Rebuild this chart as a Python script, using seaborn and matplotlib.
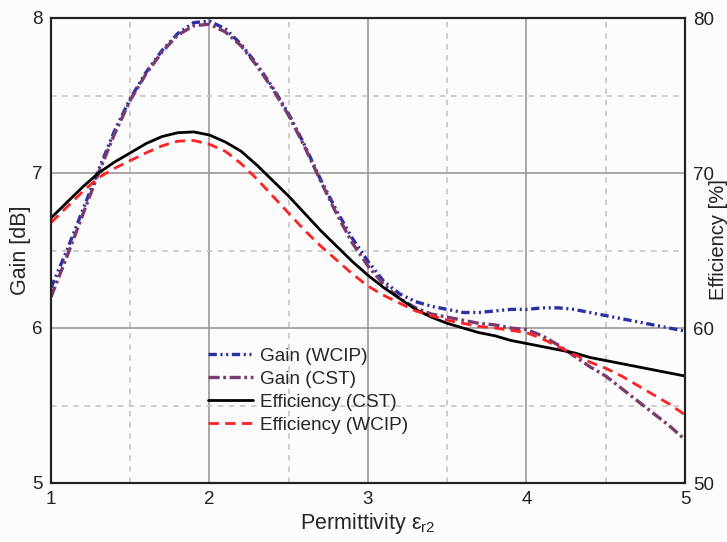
import numpy as np
import pandas as pd
import matplotlib
matplotlib.use("Agg")
import matplotlib.pyplot as plt
from matplotlib.ticker import MultipleLocator
import seaborn as sns

# ---- data ----
permittivity = [1.0, 1.1, 1.2, 1.3, 1.4, 1.5, 1.6, 1.7, 1.8, 1.9,
                2.0, 2.1, 2.2, 2.3, 2.4, 2.5, 2.6, 2.7, 2.8, 2.9,
                3.0, 3.1, 3.2, 3.3, 3.4, 3.5, 3.6, 3.7, 3.8, 3.9,
                4.0, 4.1, 4.2, 4.3, 4.4, 4.5, 4.6, 4.7, 4.8, 4.9, 5.0]

gain_wcip = [6.26, 6.50, 6.76, 7.02, 7.27, 7.48, 7.65, 7.79, 7.90, 7.97,
             7.98, 7.93, 7.83, 7.70, 7.55, 7.38, 7.18, 6.96, 6.76, 6.58,
             6.43, 6.30, 6.22, 6.17, 6.14, 6.12, 6.10, 6.10, 6.11, 6.12,
             6.12, 6.13, 6.13, 6.12, 6.10, 6.08, 6.06, 6.04, 6.02, 6.00, 5.98]

gain_cst = [6.20, 6.46, 6.73, 7.00, 7.25, 7.47, 7.64, 7.78, 7.89, 7.95,
            7.96, 7.91, 7.82, 7.69, 7.54, 7.37, 7.17, 6.95, 6.74, 6.55,
            6.40, 6.28, 6.19, 6.13, 6.09, 6.07, 6.05, 6.03, 6.02, 6.00,
            5.99, 5.95, 5.89, 5.82, 5.75, 5.69, 5.61, 5.53, 5.45, 5.37, 5.28]

eff_cst = [67.1, 68.1, 69.1, 70.0, 70.7, 71.3, 71.9, 72.35, 72.6, 72.65,
           72.45, 72.0, 71.4, 70.5, 69.5, 68.5, 67.4, 66.3, 65.3, 64.3,
           63.4, 62.6, 61.9, 61.2, 60.7, 60.3, 60.0, 59.7, 59.5, 59.2,
           59.0, 58.8, 58.6, 58.4, 58.1, 57.9, 57.7, 57.5, 57.3, 57.1, 56.9]

eff_wcip = [66.8, 67.8, 68.8, 69.7, 70.3, 70.8, 71.3, 71.75, 72.05, 72.1,
            71.85, 71.4, 70.6, 69.6, 68.5, 67.4, 66.3, 65.3, 64.4, 63.5,
            62.7, 62.1, 61.6, 61.1, 60.8, 60.5, 60.3, 60.1, 60.0, 59.85,
            59.7, 59.3, 58.8, 58.3, 57.8, 57.4, 56.9, 56.3, 55.7, 55.1, 54.4]

x_ticks = [1, 2, 3, 4, 5]
gain_ticks = [5, 6, 7, 8]
eff_ticks = [50, 60, 70, 80]

df = pd.DataFrame({"eps": permittivity, "gain_wcip": gain_wcip, "gain_cst": gain_cst,
                   "eff_cst": eff_cst, "eff_wcip": eff_wcip})

# ---- style ----
sns.set_style("white")
plt.rcParams["font.family"] = ["Liberation Sans", "DejaVu Sans"]
plt.rcParams["lines.scale_dashes"] = False

fig = plt.figure(figsize=(7.27, 5.42), dpi=100, facecolor="#fcfcfc")
ax = fig.add_axes([51 / 727, 1 - 483 / 542, 634 / 727, 465 / 542])
ax.set_facecolor("#fcfcfc")
ax2 = ax.twinx()

blue = "#2b31a3"
purple = "#7b3b6f"
red = "#ff2222"

sns.lineplot(data=df, x="eps", y="gain_wcip", ax=ax, color=blue, lw=2.4,
             label="Gain (WCIP)")
sns.lineplot(data=df, x="eps", y="gain_cst", ax=ax, color=purple, lw=2.4,
             label="Gain (CST)")
sns.lineplot(data=df, x="eps", y="eff_cst", ax=ax2, color="black", lw=2.0,
             label="Efficiency (CST)")
sns.lineplot(data=df, x="eps", y="eff_wcip", ax=ax2, color=red, lw=2.0,
             label="Efficiency (WCIP)")

ax.lines[0].set_dashes((6, 2.6, 1.5, 2.6, 1.5, 2.6))
ax.lines[1].set_dashes((8, 2.6, 2.0, 2.6))
ax2.lines[1].set_dashes((7.5, 4.5))

ax.set_xlim(1, 5)
ax.set_ylim(5, 8)
ax2.set_ylim(50, 80)
ax.set_xticks(x_ticks)
ax.set_yticks(gain_ticks)
ax2.set_yticks(eff_ticks)
ax.xaxis.set_minor_locator(MultipleLocator(0.5))
ax.yaxis.set_minor_locator(MultipleLocator(0.5))

ax.grid(which="major", color="#9e9696", lw=1.2, ls="-")
ax.grid(which="minor", color="#cbc3c3", lw=1.2, ls=(0, (4, 4)))
ax.set_axisbelow(True)

for a in (ax, ax2):
    a.tick_params(which="both", length=0, labelsize=13.5, colors="#222222", pad=6)
    for s in a.spines.values():
        s.set_color("#222222")
        s.set_linewidth(1.5)

ax.set_xlabel("Permittivity $\\mathregular{\\varepsilon_{r2}}$", fontsize=15.5, labelpad=2)
ax.set_ylabel("Gain [dB]", fontsize=15.5, labelpad=1)
ax2.set_ylabel("")
fig.text(709 / 727, 1 - 240 / 542, "Efficiency [%]", rotation=90, fontsize=14.5,
         ha="left", va="center", color="#222222")

h1, lab1 = ax.get_legend_handles_labels()
h2, lab2 = ax2.get_legend_handles_labels()
if ax.get_legend():
    ax.get_legend().remove()
if ax2.get_legend():
    ax2.get_legend().remove()
ax2.legend(h1 + h2, lab1 + lab2, loc="upper left", bbox_to_anchor=(0.248, 0.292),
           frameon=False, fontsize=13.7, handlelength=2.37, handletextpad=0.37,
           labelspacing=0.3, borderpad=0, borderaxespad=0)

fig.savefig("out.png", dpi=100, facecolor=fig.get_facecolor())
